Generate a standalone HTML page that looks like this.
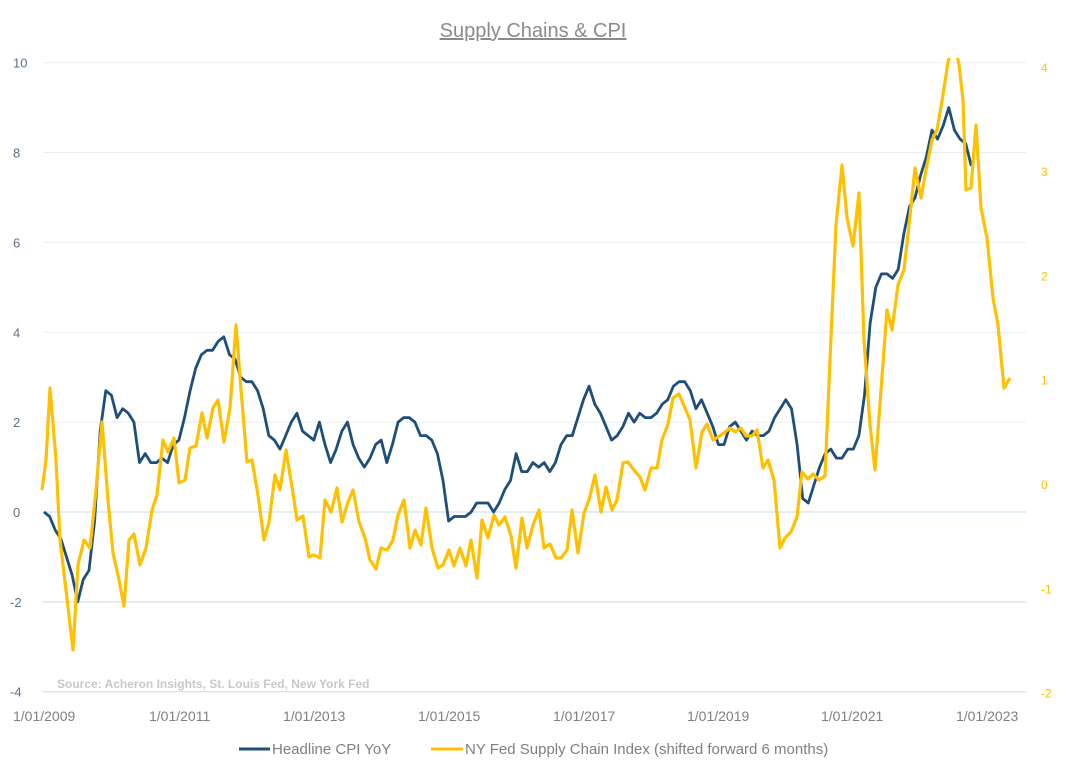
<!DOCTYPE html>
<html><head><meta charset="utf-8"><style>
body{margin:0;background:#fff;width:1069px;height:779px;overflow:hidden}
svg{font-family:"Liberation Sans",sans-serif}
</style></head><body>
<svg id="c" width="1069" height="779" xmlns="http://www.w3.org/2000/svg">
<defs><clipPath id="pc"><rect x="0" y="58" width="1069" height="700"/></clipPath></defs>
<text x="533" y="37" text-anchor="middle" font-size="20" fill="#8a8a8a" text-decoration="underline">Supply Chains &amp; CPI</text>
<g id="grid"></g>
<text x="57" y="688" font-size="12" font-weight="bold" fill="#c8c8c8">Source: Acheron Insights, St. Louis Fed, New York Fed</text>
<polyline id="cpi" fill="none" stroke="#1f4e79" stroke-width="2.8" stroke-linejoin="round"/>
<polyline id="sc" clip-path="url(#pc)" fill="none" stroke="#ffc000" stroke-width="3.2" stroke-linejoin="round"/>
<g font-size="14" fill="#7f7f7f">
<text x="13" y="721">1/01/2009</text><text x="149" y="721">1/01/2011</text><text x="283" y="721">1/01/2013</text><text x="418" y="721">1/01/2015</text><text x="553" y="721">1/01/2017</text><text x="687" y="721">1/01/2019</text><text x="821" y="721">1/01/2021</text><text x="956" y="721">1/01/2023</text>
</g>
<line x1="239" y1="749" x2="270" y2="749" stroke="#1f4e79" stroke-width="3"/>
<text x="272" y="754" font-size="15" fill="#7f7f7f">Headline CPI YoY</text>
<line x1="431" y1="749" x2="463" y2="749" stroke="#ffc000" stroke-width="3"/>
<text x="465" y="754" font-size="15" fill="#7f7f7f">NY Fed Supply Chain Index (shifted forward 6 months)</text>
</svg>
<script>
var NS="http://www.w3.org/2000/svg",g=document.getElementById("grid");
function el(t,a,txt){var e=document.createElementNS(NS,t);for(var k in a)e.setAttribute(k,a[k]);if(txt!==undefined)e.textContent=txt;g.appendChild(e);}
for(var v=10;v>=-4;v-=2){var y=512-v*44.93;el("line",{x1:43,x2:1026,y1:y,y2:y,stroke:v<=0?"#c5dbee":"#e6eef5","stroke-width":1});
el("text",{x:v<0?10:13,y:y+5,"font-size":13,fill:"#5a6f86"},v<0?"-"+(-v):""+v);}
for(var r=4;r>=-2;r--){var y=484-r*104.3;el("text",{x:1041,y:y+5,"font-size":12,fill:"#ffc000"},r<0?"-"+(-r):""+r);}
var cpi=[0,-0.1,-0.4,-0.6,-1.0,-1.4,-2.0,-1.5,-1.3,-0.2,1.8,2.7,2.6,2.1,2.3,2.2,2.0,1.1,1.3,1.1,1.1,1.2,1.1,1.5,1.6,2.1,2.7,3.2,3.5,3.6,3.6,3.8,3.9,3.5,3.4,3.0,2.9,2.9,2.7,2.3,1.7,1.6,1.4,1.7,2.0,2.2,1.8,1.7,1.6,2.0,1.5,1.1,1.4,1.8,2.0,1.5,1.2,1.0,1.2,1.5,1.6,1.1,1.5,2.0,2.1,2.1,2.0,1.7,1.7,1.6,1.3,0.7,-0.2,-0.1,-0.1,-0.1,0.0,0.2,0.2,0.2,0.0,0.2,0.5,0.7,1.3,0.9,0.9,1.1,1.0,1.1,0.9,1.1,1.5,1.7,1.7,2.1,2.5,2.8,2.4,2.2,1.9,1.6,1.7,1.9,2.2,2.0,2.2,2.1,2.1,2.2,2.4,2.5,2.8,2.9,2.9,2.7,2.3,2.5,2.2,1.9,1.5,1.5,1.9,2.0,1.8,1.6,1.8,1.7,1.7,1.8,2.1,2.3,2.5,2.3,1.5,0.3,0.2,0.6,1.0,1.3,1.4,1.2,1.2,1.4,1.4,1.7,2.6,4.2,5.0,5.3,5.3,5.2,5.4,6.2,6.8,7.0,7.5,7.9,8.5,8.3,8.6,9.0,8.5,8.3,8.2,7.7];
var p=[];for(var i=0;i<cpi.length;i++)p.push((44+i*5.62).toFixed(1)+","+(512-cpi[i]*44.93).toFixed(1));
document.getElementById("cpi").setAttribute("points",p.join(" "));
var s=[42,490,46,460,50,388,56,460,60,540,66,590,73,650,78,565,84,540,90,548,96,490,102,422,108,500,113,553,118,575,124,606,129,540,134,534,140,565,146,548,152,510,157,495,163,440,168,452,174,438,179,483,185,480,190,448,196,446,202,413,207,438,213,408,218,400,224,442,230,408,236,325,241,390,247,462,252,460,258,495,264,540,269,522,275,475,280,490,286,450,292,487,297,520,303,516,309,557,314,555,320,558,325,500,331,512,337,488,342,522,348,502,353,490,359,522,365,538,370,560,376,569,381,548,387,550,393,540,398,515,404,500,410,548,415,530,421,545,426,508,432,548,438,568,443,565,449,550,454,566,460,548,466,566,471,540,477,578,482,520,488,538,494,515,499,525,505,517,511,536,516,568,522,518,527,548,533,525,539,510,544,548,550,544,556,558,561,558,567,550,572,510,578,553,584,513,589,500,595,475,601,512,606,487,612,510,617,500,623,463,628,462,634,470,640,477,645,490,651,468,657,468,662,440,668,424,673,398,679,394,685,408,690,420,696,468,702,432,707,424,713,440,718,437,724,433,730,428,735,432,741,428,746,436,752,436,757,430,763,468,768,460,774,480,780,548,785,538,791,532,797,517,802,472,808,479,813,474,819,480,825,476,830,360,836,225,842,165,847,218,853,246,859,193,864,340,870,425,875,470,881,390,887,310,892,330,898,285,904,270,909,225,915,168,921,198,926,170,932,140,937,130,943,95,948,62,954,40,959,65,963,100,966,190,971,188,976,125,981,208,987,238,993,298,998,325,1004,388,1010,378];
var q=[];for(var i=0;i<s.length;i+=2)q.push(s[i]+","+s[i+1]);
document.getElementById("sc").setAttribute("points",q.join(" "));
</script>
</body></html>
